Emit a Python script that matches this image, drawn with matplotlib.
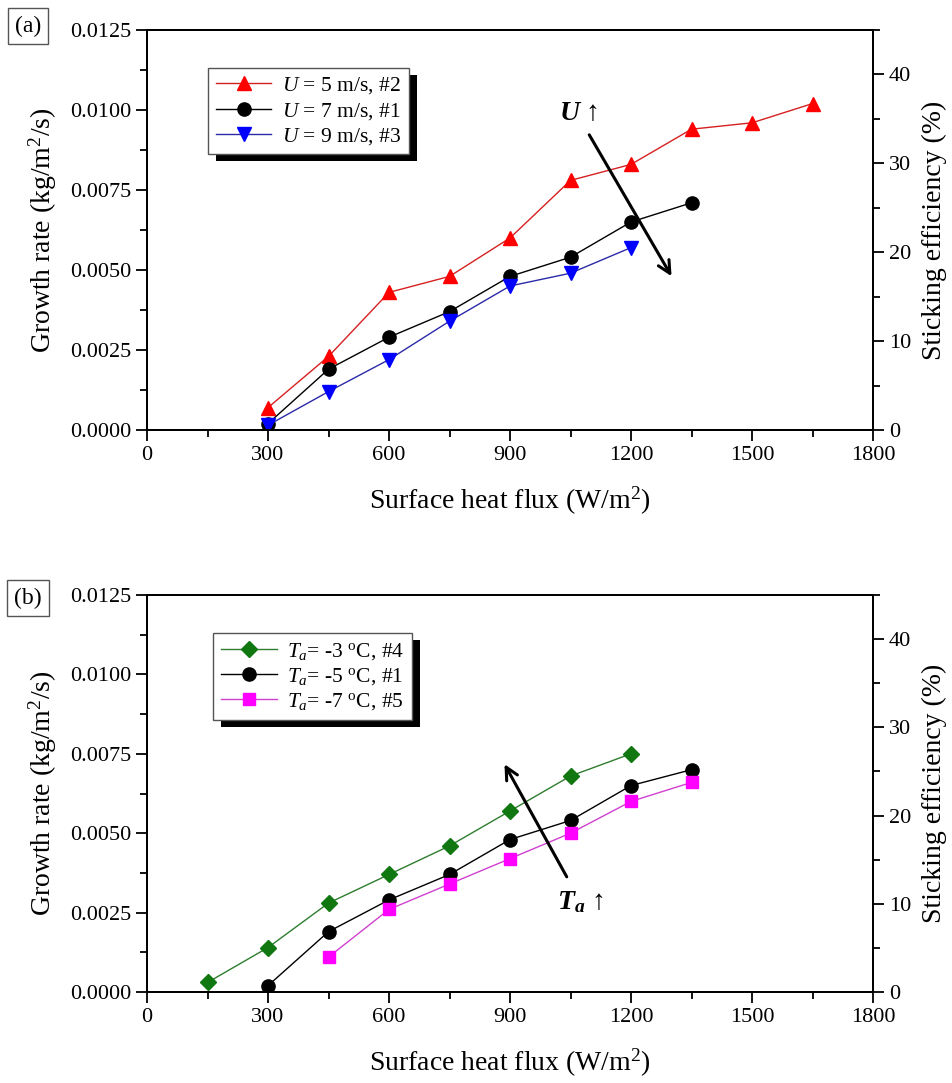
import matplotlib
matplotlib.use("Agg")
import matplotlib.pyplot as plt
from matplotlib.ticker import MultipleLocator, FormatStrFormatter
from matplotlib.patches import Rectangle
from matplotlib.transforms import IdentityTransform

plt.rcParams['font.family'] = ['Liberation Serif', 'DejaVu Serif']
plt.rcParams['mathtext.fontset'] = 'custom'
plt.rcParams['mathtext.rm'] = 'Liberation Serif'
plt.rcParams['mathtext.it'] = 'Liberation Serif:italic'
plt.rcParams['mathtext.bf'] = 'Liberation Serif:bold'
plt.rcParams['mathtext.bfit'] = 'Liberation Serif:italic:bold'

# ---- data: surface heat flux (W/m^2) vs growth rate (kg/m^2/s) ----
q_u5 = [300, 450, 600, 750, 900, 1050, 1200, 1350, 1500, 1650]
g_u5 = [0.0007, 0.0023, 0.0043, 0.0048, 0.0060, 0.0078, 0.0083, 0.0094, 0.0096, 0.0102]

q_u7 = [300, 450, 600, 750, 900, 1050, 1200, 1350]
g_u7 = [0.0002, 0.0019, 0.0029, 0.0037, 0.0048, 0.0054, 0.0065, 0.0071]

q_u9 = [300, 450, 600, 750, 900, 1050, 1200]
g_u9 = [0.00015, 0.0012, 0.0022, 0.0034, 0.0045, 0.0049, 0.0057]

q_t3 = [150, 300, 450, 600, 750, 900, 1050, 1200]
g_t3 = [0.0003, 0.0014, 0.0028, 0.0037, 0.0046, 0.0057, 0.0068, 0.0075]

q_t5 = [300, 450, 600, 750, 900, 1050, 1200, 1350]
g_t5 = [0.0002, 0.0019, 0.0029, 0.0037, 0.0048, 0.0054, 0.0065, 0.0070]

q_t7 = [450, 600, 750, 900, 1050, 1200, 1350]
g_t7 = [0.0011, 0.0026, 0.0034, 0.0042, 0.0050, 0.0060, 0.0066]

labels_a = [r'$U$ = 5 m/s, #2', r'$U$ = 7 m/s, #1', r'$U$ = 9 m/s, #3']
labels_b = [r'$T_a$= -3 $^{\mathrm{o}}$C, #4', r'$T_a$= -5 $^{\mathrm{o}}$C, #1',
            r'$T_a$= -7 $^{\mathrm{o}}$C, #5']

fig = plt.figure(figsize=(9.52, 10.83), dpi=100)
W, H = 952, 1083
ax_a = fig.add_axes([147 / W, 1 - 430 / H, 726 / W, 400 / H])
ax_b = fig.add_axes([147 / W, 1 - 992 / H, 726 / W, 397 / H])

TICK_FS = 16
LABEL_FS = 20
LEG_FS = 15.5


def style_axes(ax):
    ax.set_xlim(0, 1800)
    ax.set_ylim(0, 0.0125)
    ax.xaxis.set_major_locator(MultipleLocator(300))
    ax.xaxis.set_minor_locator(MultipleLocator(150))
    ax.yaxis.set_major_locator(MultipleLocator(0.0025))
    ax.yaxis.set_minor_locator(MultipleLocator(0.00125))
    ax.yaxis.set_major_formatter(FormatStrFormatter('%.4f'))
    ax.tick_params(which='both', direction='out', width=1.3, labelsize=TICK_FS,
                   top=False, right=False)
    ax.tick_params(which='major', length=8)
    ax.tick_params(which='minor', length=5)
    for s in ax.spines.values():
        s.set_linewidth(1.4)
    ax.set_xlabel(r'Surface heat flux (W/m$^2$)', fontsize=LABEL_FS, labelpad=14)
    ax.set_ylabel(r'Growth rate (kg/m$^2$/s)', fontsize=LABEL_FS, labelpad=8)
    tw = ax.twinx()
    tw.set_ylim(0, 45)
    tw.yaxis.set_major_locator(MultipleLocator(10))
    tw.yaxis.set_minor_locator(MultipleLocator(5))
    tw.tick_params(which='both', direction='out', width=1.3, labelsize=TICK_FS)
    tw.tick_params(which='major', length=8)
    tw.tick_params(which='minor', length=5)
    for s in tw.spines.values():
        s.set_linewidth(1.4)
    tw.set_ylabel('Sticking efficiency (%)', fontsize=LABEL_FS, labelpad=8)
    ax.set_zorder(tw.get_zorder() + 1)
    ax.patch.set_visible(False)
    return tw


style_axes(ax_a)
style_axes(ax_b)

lw = 1.0
ax_a.plot(q_u5, g_u5, '-', color='#d62020', lw=lw, marker='^', ms=10.5,
          mfc='#ff0000', mec='#ff0000', label=labels_a[0])
ax_a.plot(q_u7, g_u7, '-', color='black', lw=lw, marker='o', ms=9.5,
          mfc='black', mec='black', label=labels_a[1])
ax_a.plot(q_u9, g_u9, '-', color='#2a2aa8', lw=lw, marker='v', ms=10.5,
          mfc='#0000ff', mec='#0000ff', label=labels_a[2])

ax_b.plot(q_t3, g_t3, '-', color='#2e7d2e', lw=lw, marker='D', ms=8.5,
          mfc='#117711', mec='#117711', label=labels_b[0])
ax_b.plot(q_t5, g_t5, '-', color='black', lw=lw, marker='o', ms=9.5,
          mfc='black', mec='black', label=labels_b[1])
ax_b.plot(q_t7, g_t7, '-', color='#d040d0', lw=lw, marker='s', ms=8.5,
          mfc='#ff00ff', mec='#ff00ff', label=labels_b[2])

leg_kw = dict(loc='upper left', borderaxespad=0, fancybox=False, fontsize=LEG_FS,
              handlelength=2.6, handletextpad=0.5, labelspacing=0.2,
              borderpad=0.35, framealpha=1, edgecolor='#555555')
leg_a = ax_a.legend(bbox_to_anchor=(0.084, 0.905), **leg_kw)
leg_b = ax_b.legend(bbox_to_anchor=(0.091, 0.904), **leg_kw)
for lg in (leg_a, leg_b):
    lg.get_frame().set_linewidth(1.0)
    lg.set_zorder(6)

# trend arrows
ax_a.annotate('', xy=(1304, 0.00473), xytext=(1093, 0.0093),
              arrowprops=dict(arrowstyle='->', lw=2.2, color='black',
                              mutation_scale=22))
ax_a.text(1070, 0.0099, r'$\mathbfit{U}$ ' + '\u2191', fontsize=20,
          ha='center', va='center')
ax_b.annotate('', xy=(883, 0.00725), xytext=(1044, 0.00355),
              arrowprops=dict(arrowstyle='->', lw=2.2, color='black',
                              mutation_scale=22))
ax_b.text(1075, 0.00283, r'$\mathbfit{T}_{\mathbfit{a}}$ ' + '\u2191', fontsize=20,
          ha='center', va='center')

# panel tags
fig.text(28 / W, 1 - 26 / H, '(a)', fontsize=17, ha='center', va='center',
         bbox=dict(boxstyle='square,pad=0.3', fc='white', ec='#555555', lw=1))
fig.text(28 / W, 1 - 598 / H, '(b)', fontsize=17, ha='center', va='center',
         bbox=dict(boxstyle='square,pad=0.3', fc='white', ec='#555555', lw=1))

# solid drop shadows behind the legends
fig.canvas.draw()
for ax, lg in ((ax_a, leg_a), (ax_b, leg_b)):
    bb = lg.get_window_extent()
    sh = Rectangle((bb.x0 + 8, bb.y0 - 7), bb.width, bb.height,
                   transform=IdentityTransform(), facecolor='black',
                   edgecolor='none', zorder=5.5, clip_on=False)
    ax.add_artist(sh)

fig.savefig('out.png', dpi=100)
